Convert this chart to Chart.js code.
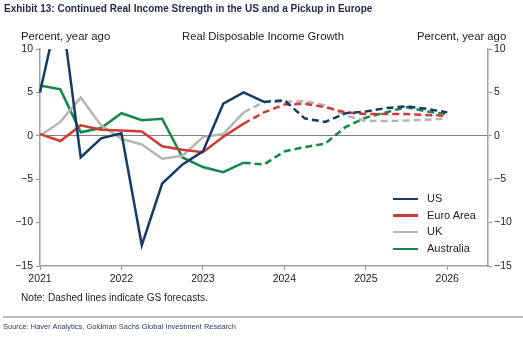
<!DOCTYPE html>
<html><head><meta charset="utf-8">
<script src="https://cdn.jsdelivr.net/npm/chart.js@4.4.1/dist/chart.umd.min.js"></script>
<style>
html,body{margin:0;padding:0;background:#fff;}
#wrap{position:relative;width:523px;height:338px;overflow:hidden;font-family:"Liberation Sans",Arial,sans-serif;color:#222;}
#c{position:absolute;left:0;top:0;}
.t{position:absolute;white-space:nowrap;line-height:1;}
.lg{position:absolute;left:393px;width:25px;height:2.5px;}
.lt{position:absolute;left:427px;font-size:11px;line-height:1;white-space:nowrap;}
</style></head><body>
<div id="wrap">
<canvas id="c" width="523" height="338"></canvas>
<div class="t" id="title" style="left:4px;top:4px;font-family:'Liberation Sans Narrow','Liberation Sans',sans-serif;font-weight:bold;font-size:13px;color:#1c2a48;">Exhibit 13: Continued Real Income Strength in the US and a Pickup in Europe</div>
<div class="t" style="left:21px;top:31px;font-size:11.3px;">Percent, year ago</div>
<div class="t" style="left:182px;top:31px;font-size:11.3px;">Real Disposable Income Growth</div>
<div class="t" style="left:417px;top:31px;font-size:11.3px;">Percent, year ago</div>
<div class="t" id="note" style="left:21px;top:293px;font-size:10px;">Note: Dashed lines indicate GS forecasts.</div>
<div style="position:absolute;left:3px;top:316px;width:520px;height:2px;background:#bdbdbd;"></div>
<div class="t" id="src" style="left:3px;top:323px;font-family:'Liberation Sans Narrow','Liberation Sans',sans-serif;font-size:9.5px;color:#2a3c62;">Source: Haver Analytics, Goldman Sachs Global Investment Research</div>
<div id="legend"></div>
</div>
<script>
// ---- data ----
const categories = ["2021Q1","2021Q2","2021Q3","2021Q4","2022Q1","2022Q2","2022Q3","2022Q4","2023Q1","2023Q2","2023Q3","2023Q4","2024Q1","2024Q2","2024Q3","2024Q4","2025Q1","2025Q2","2025Q3","2025Q4","2026Q1"];
const usValues   = [5.0, 15.5, -2.5, -0.3, 0.3, -12.6, -5.5, -3.3, -1.8, 3.7, 5.0, 3.9, 4.1, 2.0, 1.6, 2.6, 2.8, 3.2, 3.4, 3.1, 2.7];
const euroValues = [0.2, -0.6, 1.2, 0.7, 0.6, 0.5, -1.2, -1.6, -1.9, -0.1, 1.4, 2.7, 3.6, 3.7, 3.3, 2.7, 2.5, 2.5, 2.5, 2.4, 2.3];
const ukValues   = [0.0, 1.6, 4.4, 1.2, -0.35, -1.0, -2.65, -2.3, -0.15, 0.2, 2.7, 3.9, 3.9, 4.0, 3.5, 2.35, 1.7, 1.7, 1.75, 1.85, 2.0];
const auValues   = [5.8, 5.35, 0.4, 0.9, 2.6, 1.8, 1.95, -2.5, -3.6, -4.2, -3.1, -3.3, -1.8, -1.3, -0.9, 1.0, 2.1, 2.7, 3.3, 2.8, 2.5];
const seriesNames = ["US", "Euro Area", "UK", "Australia"];
const forecastStart = [11, 10, 10, 10]; // index where dashed forecast begins
const yTickValues = [-15, -10, -5, 0, 5, 10];
const xTickYears = [2021, 2022, 2023, 2024, 2025, 2026];

const colors = ["#143c66", "#d03a34", "#b5b5b5", "#12894a"];
const allValues = [usValues, euroValues, ukValues, auValues];
const xPos = categories.map(c => parseInt(c.slice(0,4)) + (parseInt(c.slice(5)) - 1) / 4);

const datasets = allValues.map((vals, k) => ({
  label: seriesNames[k],
  data: vals.map((v, i) => ({x: xPos[i], y: v})),
  borderColor: colors[k],
  backgroundColor: colors[k],
  borderWidth: 2.5,
  pointRadius: 0,
  tension: 0,
  fill: false,
  clip: {left: 3, top: 0, right: 3, bottom: 3},
  segment: { borderDash: ctx => ctx.p0DataIndex >= forecastStart[k] ? [7, 4] : undefined }
}));

// legend (HTML)
const lg = document.getElementById('legend');
const lgY = [199, 215.5, 232, 249];
seriesNames.forEach((n, k) => {
  const l = document.createElement('div'); l.className = 'lg';
  l.style.top = (lgY[k] - 1.25) + 'px'; l.style.background = colors[k]; lg.appendChild(l);
  const t = document.createElement('div'); t.className = 'lt';
  t.style.top = (lgY[k] - 6) + 'px'; t.textContent = n; lg.appendChild(t);
});

function fitWidth(id, target) {
  const el = document.getElementById(id);
  const fs = parseFloat(el.style.fontSize);
  const w = el.getBoundingClientRect().width;
  el.style.fontSize = (fs * target / w) + 'px';
}
fitWidth('title', 369);
fitWidth('note', 187);
fitWidth('src', 233);

const fmt = v => v < 0 ? '\u2212' + Math.abs(v) : String(v);
const tickFont = {family: "'Liberation Sans', Arial, sans-serif", size: 10.5};

new Chart(document.getElementById('c'), {
  type: 'line',
  data: { datasets },
  options: {
    responsive: false,
    animation: false,
    layout: { padding: {left: 0, right: 0, top: 49, bottom: 0} },
    plugins: { legend: {display: false}, tooltip: {enabled: false} },
    scales: {
      x: {
        type: 'linear', min: 2021, max: 2026.5,
        afterBuildTicks: s => { s.ticks = xTickYears.map(v => ({value: v})); },
        ticks: { color: '#222', font: tickFont, padding: 3, maxRotation: 0, autoSkip: false, callback: v => String(v) },
        grid: { drawOnChartArea: false, tickLength: 4, tickColor: '#999', tickWidth: 1.2 },
        border: { color: '#a0a0a0', width: 1.5 },
        afterFit: s => { s.height = 72; }
      },
      y: {
        position: 'left', min: -15, max: 10,
        afterBuildTicks: s => { s.ticks = yTickValues.map(v => ({value: v})); },
        ticks: { color: '#222', font: tickFont, padding: 3, callback: fmt },
        grid: { drawOnChartArea: true, color: c => (c.tick && c.tick.value === 0) ? '#808080' : 'rgba(0,0,0,0)', lineWidth: 1, tickLength: 4, tickColor: '#999', tickWidth: 1.2 },
        border: { color: '#a0a0a0', width: 1.5 },
        afterFit: s => { s.width = 40; }
      },
      y2: {
        position: 'right', min: -15, max: 10,
        afterBuildTicks: s => { s.ticks = yTickValues.map(v => ({value: v})); },
        ticks: { color: '#222', font: tickFont, padding: 2, callback: fmt },
        grid: { drawOnChartArea: false, tickLength: 4, tickColor: '#999', tickWidth: 1.2 },
        border: { color: '#a0a0a0', width: 1.5 },
        afterFit: s => { s.width = 35; }
      }
    }
  }
});
</script>
</body></html>
